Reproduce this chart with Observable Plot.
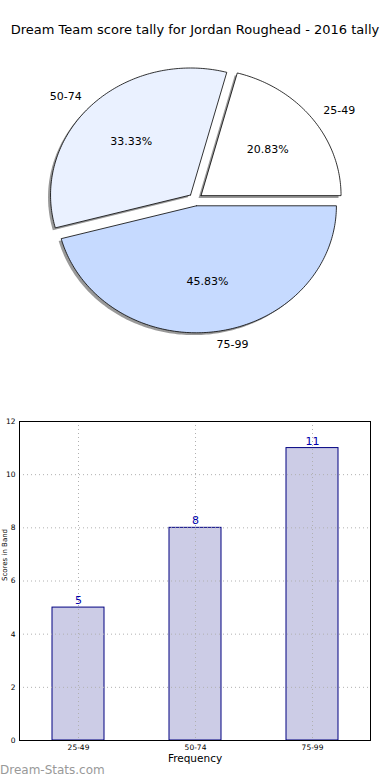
<!DOCTYPE html>
<html><head><meta charset="utf-8">
<script src="https://cdn.jsdelivr.net/npm/d3@7"></script>
<script src="https://cdn.jsdelivr.net/npm/@observablehq/plot@0.6"></script>
<style>
body{margin:0;background:#fff;font-family:"DejaVu Sans",sans-serif;}
#wrap{position:relative;width:390px;height:780px;overflow:hidden;background:#fff;}
#title{position:absolute;top:22px;left:0;width:390px;text-align:center;font-size:13px;color:#000;white-space:nowrap;}
#pie{position:absolute;top:0;left:0;}
#bar{position:absolute;top:400px;left:0;}
#wm{position:absolute;top:763px;left:0;font-size:12px;color:#999;font-weight:normal;}
svg{font-family:"DejaVu Sans",sans-serif;}
</style></head><body>
<div id="wrap">
<div id="pie"></div>
<div id="bar"></div>
<div id="title"></div>
<div id="wm"></div>
</div>
<script>
const titleText = "Dream Team score tally for Jordan Roughead - 2016 tally";
const categories = ["25-49", "50-74", "75-99"];
const counts = [5, 8, 11];
const sliceColors = ["#ffffff", "#eaf1ff", "#c6daff"];
const yTicks = [0, 2, 4, 6, 8, 10, 12];
const yLabel = "Scores in Band";
const xLabel = "Frequency";
const watermark = "Dream-Stats.com";

document.getElementById("title").textContent = titleText;
document.getElementById("wm").textContent = watermark;

// ---- Pie (matplotlib style: start at 0deg, counter-clockwise, explode 0.05) ----
const total = d3.sum(counts);
const explode = 0.05;
const shadowOff = 0.018;
let cum = 0;
const slices = categories.map((c, i) => {
  const t1 = cum / total * 2 * Math.PI;
  cum += counts[i];
  const t2 = cum / total * 2 * Math.PI;
  const mid = (t1 + t2) / 2;
  const ox = explode * Math.cos(mid), oy = explode * Math.sin(mid);
  const pts = [{x: ox, y: oy}];
  const n = Math.max(2, Math.ceil((t2 - t1) / (Math.PI / 180)));
  for (let k = 0; k <= n; k++) {
    const t = t1 + (t2 - t1) * k / n;
    pts.push({x: ox + Math.cos(t), y: oy + Math.sin(t)});
  }
  pts.push({x: ox, y: oy});
  return {cat: c, value: counts[i], color: sliceColors[i], mid, ox, oy, pts};
});

const pieMarks = [];
slices.forEach(s => {
  pieMarks.push(Plot.line(s.pts, {x: d => d.x - shadowOff, y: d => d.y - shadowOff, fill: "#000", fillOpacity: 0.4, stroke: "none", curve: "linear"}));
});
slices.forEach(s => {
  pieMarks.push(Plot.line(s.pts, {x: "x", y: "y", fill: s.color, stroke: "#000", strokeWidth: 0.8, curve: "linear"}));
});
slices.forEach(s => {
  const lx = s.ox + 1.1 * Math.cos(s.mid), ly = s.oy + 1.1 * Math.sin(s.mid);
  pieMarks.push(Plot.text([s], {x: () => lx, y: () => ly, text: "cat", textAnchor: lx > 0 ? "start" : "end", fontSize: 11, fill: "#000"}));
  const px = s.ox + 0.6 * Math.cos(s.mid), py = s.oy + 0.6 * Math.sin(s.mid);
  pieMarks.push(Plot.text([s], {x: () => px, y: () => py, text: d => d3.format(".2f")(d.value / total * 100) + "%", textAnchor: "middle", fontSize: 11, fill: "#000"}));
});

const pie = Plot.plot({
  width: 390, height: 390,
  margin: 0,
  x: {type: "linear", domain: [-195 / 140, 195 / 140], range: [0, 390], axis: null},
  y: {type: "linear", domain: [-191 / 127, 199 / 127], range: [390, 0], axis: null},
  marks: pieMarks
});
document.getElementById("pie").appendChild(pie);

// ---- Bar chart ----
const bars = categories.map((c, i) => ({cat: c, count: counts[i]}));
const bar = Plot.plot({
  width: 390, height: 380,
  marginLeft: 19, marginRight: 20, marginTop: 21, marginBottom: 40,
  x: {type: "band", domain: categories, paddingInner: 0.556, paddingOuter: 0.278, label: null},
  y: {type: "linear", domain: [0, 12], label: null},
  marks: [
    Plot.barY(bars, {x: "cat", y: "count", fill: "#ccccE6", stroke: "#000080", strokeWidth: 1}),
    Plot.gridY(yTicks, {stroke: "#b0b0b0", strokeOpacity: 1, strokeDasharray: "1,3"}),
    Plot.gridX(categories, {stroke: "#b0b0b0", strokeOpacity: 1, strokeDasharray: "1,3"}),
    Plot.text(bars, {x: "cat", y: "count", text: d => String(d.count), dy: -7, fill: "#0000aa", fontSize: 11}),
    Plot.frame({stroke: "#000", strokeWidth: 1}),
    Plot.axisY(yTicks, {tickSize: 0, tickPadding: 4, fontSize: 7.5, label: null}),
    Plot.axisX({tickSize: 0, tickPadding: 4, fontSize: 7.5, label: null}),
    Plot.text([xLabel], {frameAnchor: "bottom", dy: 21, text: d => d, fontSize: 10.5, fill: "#000"}),
    Plot.text([yLabel], {frameAnchor: "left", dx: -15, rotate: -90, text: d => d, fontSize: 7, fill: "#000"})
  ]
});
document.getElementById("bar").appendChild(bar);
</script>
</body></html>
